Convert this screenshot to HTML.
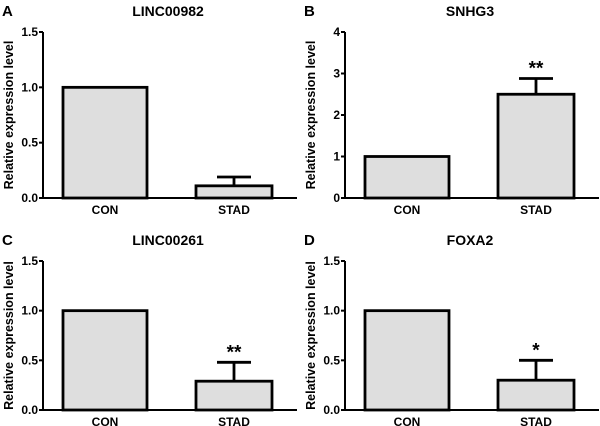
<!DOCTYPE html>
<html><head><meta charset="utf-8"><style>
body{margin:0;background:#fff;}
svg{display:block;font-family:"Liberation Sans",Arial,sans-serif;font-weight:bold;}
</style></head><body>
<svg id="c" width="600" height="426" viewBox="0 0 600 426"></svg>
<script>
const categories = ["CON","STAD"];
const titles = ["LINC00982","SNHG3","LINC00261","FOXA2"];
const letters = ["A","B","C","D"];
const valuesA = [1.0, 0.11];
const errorsA = [0, 0.08];
const valuesB = [1.0, 2.5];
const errorsB = [0, 0.38];
const valuesC = [1.0, 0.29];
const errorsC = [0, 0.19];
const valuesD = [1.0, 0.30];
const errorsD = [0, 0.20];
const sigD = ["", "*"];
const sigB = ["", "**"];
const sigC = ["", "**"];
const sigA = ["", ""];
const ticksA = [0, 0.5, 1.0, 1.5];
const ticksB = [0, 1, 2, 3, 4];
const tickLabelsA = ["0.0","0.5","1.0","1.5"];
const tickLabelsB = ["0","1","2","3","4"];

const NS="http://www.w3.org/2000/svg";
const svg=document.getElementById('c');
function mk(tag,attrs,parent,text){const e=document.createElementNS(NS,tag);for(const k in attrs)e.setAttribute(k,attrs[k]);if(text!==undefined)e.textContent=text;(parent||svg).appendChild(e);return e;}

const panels=[
 {ox:0,top:32,bot:198,vals:valuesA,errs:errorsA,sig:sigA,ticks:ticksA,tl:tickLabelsA,max:1.5,ty:14},
 {ox:302,top:32,bot:198,vals:valuesB,errs:errorsB,sig:sigB,ticks:ticksB,tl:tickLabelsB,max:4,ty:14},
 {ox:0,top:261,bot:410,vals:valuesC,errs:errorsC,sig:sigC,ticks:ticksA,tl:tickLabelsA,max:1.5,ty:243},
 {ox:302,top:261,bot:410,vals:valuesD,errs:errorsD,sig:sigD,ticks:ticksA,tl:tickLabelsA,max:1.5,ty:243}
];
panels.forEach((p,i)=>{
 const g=mk('g',{});
 
 
 const ax=p.ox+43, axEnd=p.ox+297;
 const y=v=>p.bot-(v/p.max)*(p.bot-p.top);
 const xs=[[p.ox+63,p.ox+147],[p.ox+196,p.ox+272]];
 const lt=mk('text',{x:p.ox+2,y:p.ty+2,'font-size':15,fill:'#000'},g,letters[i]);
 
 
 const tt=mk('text',{x:p.ox+168,y:p.ty+2,'font-size':14,'text-anchor':'middle',fill:'#000'},g,titles[i]);
 
 
 const yt=mk('text',{x:0,y:0,'font-size':12.5,'text-anchor':'middle',transform:`translate(${p.ox+13},${(p.top+p.bot)/2}) rotate(-90)`},g,'Relative expression level');
 
 
 p.vals.forEach((v,j)=>{
  const [x0,x1]=xs[j];
  const cx=(x0+x1)/2;
  if(p.errs[j]>0){
   const ey=y(v+p.errs[j]);
   const e=mk('path',{d:`M${cx} ${y(v)}V${ey}M${cx-17} ${ey}H${cx+17}`,stroke:'#000','stroke-width':2.8,fill:'none'},g);
   
   
  }
  const r=mk('rect',{x:x0,y:y(v),width:x1-x0,height:p.bot-y(v),fill:'#dedede',stroke:'#000','stroke-width':2.8},g);
  
  
  if(p.sig[j]){
   const s=mk('text',{x:cx,y:y(v+p.errs[j])-4,'font-size':19,'text-anchor':'middle'},g,p.sig[j]);
   
   
  }
  const cl=mk('text',{x:cx,y:p.bot+16,'font-size':12,'text-anchor':'middle'},g,categories[j]);
  
  
 });
 const axes=mk('path',{d:`M${ax} ${p.top}V${p.bot}H${axEnd}`,stroke:'#000','stroke-width':2,fill:'none'},g);
 
 
 p.ticks.forEach((t,k)=>{
  const ty=y(t);
  mk('line',{x1:ax-4,x2:ax,y1:ty,y2:ty,stroke:'#000','stroke-width':2},g);
  const tl=mk('text',{x:ax-5,y:ty+4,'font-size':12,'text-anchor':'end'},g,p.tl[k]);
  
  
 });
});
</script>
</body></html>
